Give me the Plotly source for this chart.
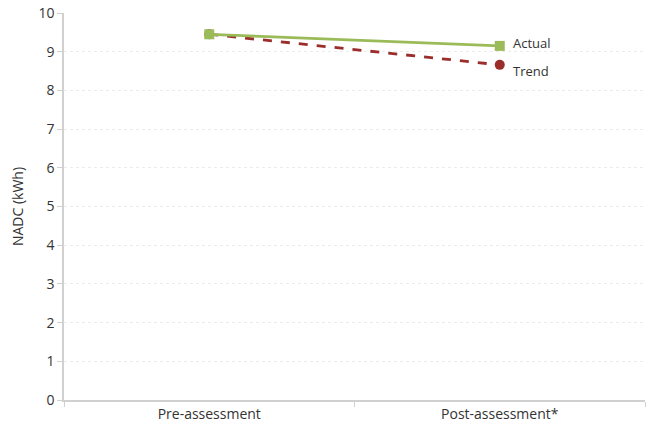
import plotly.graph_objects as go

# Category labels and the two measured series
categories = ["Pre-assessment", "Post-assessment*"]
actual = [9.45, 9.15]
trend = [9.45, 8.66]
y_ticks = list(range(0, 11))

GREEN = "#9BBB59"
RED = "#9B2D2A"

fig = go.Figure()

fig.add_trace(go.Scatter(
    x=categories, y=trend, mode="lines+markers", name="Trend",
    line=dict(color=RED, width=2.8, dash="dash"),
    marker=dict(symbol="circle", size=10, color=RED),
))
fig.add_trace(go.Scatter(
    x=categories, y=actual, mode="lines+markers", name="Actual",
    line=dict(color=GREEN, width=2.8),
    marker=dict(symbol="square", size=10, color=GREEN),
))

# Series labels next to the last point
for name, vals, shift in (("Actual", actual, 3), ("Trend", trend, -6)):
    fig.add_annotation(
        x=categories[-1], y=vals[-1], text=name, showarrow=False,
        xanchor="left", xshift=11, yshift=shift,
        font=dict(family="Open Sans, Lato, sans-serif", size=13, color="#333333"),
    )

fig.update_layout(
    width=648, height=432,
    margin=dict(l=64, r=3, t=11, b=32),
    paper_bgcolor="white", plot_bgcolor="white",
    showlegend=False,
    font=dict(family="Open Sans, Lato, sans-serif", size=14, color="#333333"),
)

fig.update_xaxes(
    type="category", range=[-0.5, 1.5],
    showline=True, linecolor="#D0D0D0", linewidth=1.5,
    ticks="outside", tickson="boundaries", ticklen=5, tickcolor="#D0D0D0",
    showgrid=False, zeroline=False,
    tickfont=dict(size=14, color="#333333"),
)
fig.update_yaxes(
    range=[0, 10], tickvals=y_ticks,
    showline=True, linecolor="#D0D0D0", linewidth=1.5,
    ticks="outside", ticklen=5, tickcolor="#D0D0D0",
    showgrid=True, gridcolor="#EBEBEB", griddash="dot", gridwidth=1,
    zeroline=False,
    title=dict(text="NADC (kWh)", standoff=12, font=dict(size=14)),
    tickfont=dict(size=14, color="#333333"),
)

fig.write_html("out.html")
